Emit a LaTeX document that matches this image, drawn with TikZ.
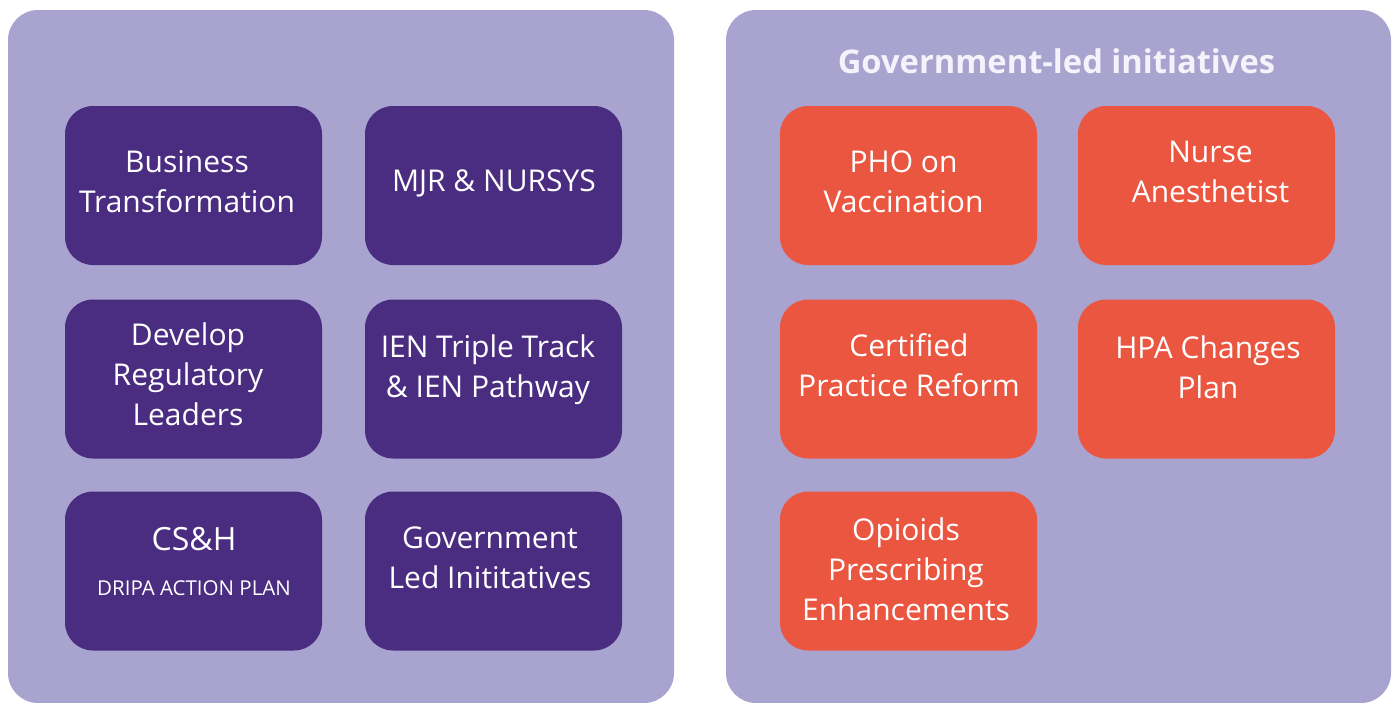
\documentclass[tikz,border=0pt]{standalone}
\usepackage{fontspec}
\setmainfont{Open Sans}
\definecolor{panelc}{HTML}{A8A3CF}
\definecolor{purplec}{HTML}{4A2D80}
\definecolor{orangec}{HTML}{EB5641}
\definecolor{titlec}{HTML}{F4F2FA}
\tikzset{
  panel/.style={fill=panelc, draw=none, rounded corners=30pt},
  pbox/.style={fill=purplec, draw=none, rounded corners=28pt, minimum width=257pt, minimum height=159pt, inner sep=0pt},
  obox/.style={fill=orangec, draw=none, rounded corners=28pt, minimum width=257pt, minimum height=159pt, inner sep=0pt},
  txt/.style={text=white, align=center, inner sep=0pt, font=\fontsize{30}{40}\selectfont},
  small/.style={text=white, inner sep=0pt, font=\fontsize{20.5}{24}\selectfont, anchor=base},
  ttl/.style={text=titlec, inner sep=0pt, font=\fontsize{32.7}{40}\selectfont\bfseries, anchor=base}
}
\begin{document}
\begin{tikzpicture}[x=1pt,y=-1pt]
\useasboundingbox (0,0) rectangle (1394,702);
% panels
\path[panel] (8,10) rectangle (674,703);
\path[panel] (726,10) rectangle (1391,703);
\node[ttl] (title) at (1056.5,73) {Government-led initiatives};
% left boxes
\node[pbox] (b1) at (193.5,185.5) {};
\node[pbox] (b2) at (493.5,185.5) {};
\node[pbox] (b3) at (193.5,379) {};
\node[pbox] (b4) at (493.5,379) {};
\node[pbox] (b5) at (193.5,571) {};
\node[pbox] (b6) at (493.5,571) {};
% right boxes
\node[obox] (r1) at (908.5,185.5) {};
\node[obox] (r2) at (1206.5,185.5) {};
\node[obox] (r3) at (908.5,379) {};
\node[obox] (r4) at (1206.5,379) {};
\node[obox] (r5) at (908.5,571) {};
% texts
\node[txt] (t1) at (187,184.5) {\strut Business\\\strut Transformation};
\node[txt] (t2) at (494,183) {\strut MJR \& NURSYS};
\node[txt] (t3) at (188,377) {\strut Develop\\\strut Regulatory\\\strut Leaders};
\node[txt] (t4) at (488,369) {\strut IEN Triple Track\\\strut \& IEN Pathway};
\node[txt, anchor=base, font=\fontsize{32}{40}\selectfont] (t5a) at (194,550) {CS\&H};
\node[small] (t5b) at (194,595) {DRIPA ACTION PLAN};
\node[txt] (t6) at (490,560) {\strut Government\\\strut Led Inititatives};
\node[txt] (u1) at (903.5,184.5) {\strut PHO on\\\strut Vaccination};
\node[txt] (u2) at (1210.5,174) {\strut Nurse\\\strut Anesthetist};
\node[txt] (u3) at (909,368) {\strut Certified\\\strut Practice Reform};
\node[txt] (u4) at (1208,370) {\strut HPA Changes\\\strut Plan};
\node[txt] (u5) at (906,572) {\strut Opioids\\\strut Prescribing\\\strut Enhancements};
\end{tikzpicture}
\end{document}
